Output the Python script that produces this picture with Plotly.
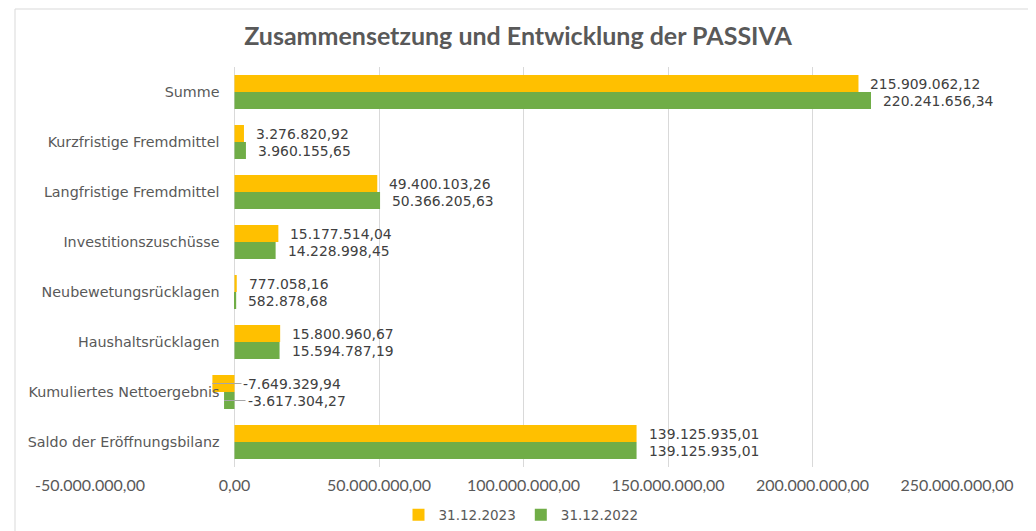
import plotly.graph_objects as go

categories = [
    "Summe",
    "Kurzfristige Fremdmittel",
    "Langfristige Fremdmittel",
    "Investitionszuschüsse",
    "Neubewetungsrücklagen",
    "Haushaltsrücklagen",
    "Kumuliertes Nettoergebnis",
    "Saldo der Eröffnungsbilanz",
]
values_2023 = [215909062.12, 3276820.92, 49400103.26, 15177514.04, 777058.16,
               15800960.67, -7649329.94, 139125935.01]
values_2022 = [220241656.34, 3960155.65, 50366205.63, 14228998.45, 582878.68,
               15594787.19, -3617304.27, 139125935.01]
series_names = ["31.12.2023", "31.12.2022"]
tick_values = [-50e6, 0, 50e6, 100e6, 150e6, 200e6, 250e6]
tick_labels = ["-50.000.000,00", "0,00", "50.000.000,00", "100.000.000,00",
               "150.000.000,00", "200.000.000,00", "250.000.000,00"]

colors = ["#FFC000", "#70AD47"]

# page body has an 8px margin, so the figure is drawn 8px in from the corner
OFF = 8
W, H = 1036 - OFF, 531 - OFF
ML, MR, MT, MB = 90 - OFF, 79, 67 - OFF, 64
PW, PH = W - ML - MR, H - MT - MB
x_range = [-50e6, 250e6]
ppu = PW / (x_range[1] - x_range[0])


def de_fmt(v):
    s = f"{abs(v):,.2f}".replace(",", "X").replace(".", ",").replace("X", ".")
    return ("-" if v < 0 else "") + s


fig = go.Figure()
for name, vals, col in zip(series_names, [values_2023, values_2022], colors):
    fig.add_trace(go.Bar(
        y=categories, x=vals, name=name, orientation="h",
        marker=dict(color=col, line=dict(width=0)),
        hoverinfo="skip",
    ))

annotations = []
label_font = dict(family="DejaVu Sans", size=13.9, color="#404040")
for vals, ysh, lead in [(values_2023, 8.5, 7), (values_2022, -8.5, 11)]:
    for cat, v in zip(categories, vals):
        if v >= 0:
            annotations.append(dict(
                x=v, y=cat, xref="x", yref="y", text=de_fmt(v),
                showarrow=False, xanchor="left", xshift=10, yshift=ysh,
                font=label_font,
            ))
        else:
            annotations.append(dict(
                x=v, y=cat, xref="x", yref="y", text=de_fmt(v),
                showarrow=True, arrowhead=0, arrowwidth=1, arrowcolor="#A6A6A6",
                ax=-v * ppu + lead, ay=0, xanchor="left", yshift=ysh,
                standoff=0, startstandoff=0,
                font=label_font,
            ))


def px_to_paper_x(px_ref):
    return (px_ref - OFF - ML) / PW


def px_to_paper_y(py_ref):
    return ((H - MB) - (py_ref - OFF)) / PH


fig.update_layout(
    width=W, height=H,
    template="none",
    paper_bgcolor="white", plot_bgcolor="white",
    margin=dict(l=ML, r=MR, t=MT, b=MB, autoexpand=False),
    barmode="group", bargap=0.32, bargroupgap=0,
    title=dict(
        text="<b>Zusammensetzung und Entwicklung der PASSIVA</b>",
        x=(518 - OFF) / W, xref="container", xanchor="center",
        y=1 - (36 - OFF) / H, yref="container", yanchor="middle",
        font=dict(family="Lato", size=25, color="#595959"),
    ),
    xaxis=dict(
        range=x_range, tickvals=tick_values, ticktext=tick_labels,
        showgrid=True, gridcolor="#D9D9D9", gridwidth=1,
        zeroline=False, showline=False, ticks="",
        ticklabelstandoff=7,
        tickfont=dict(family="Lato", size=16, color="#595959"),
        automargin=False,
        fixedrange=True,
    ),
    yaxis=dict(
        type="category", categoryorder="array", categoryarray=categories,
        autorange="reversed",
        anchor="free", position=(0 - x_range[0]) / (x_range[1] - x_range[0]),
        showgrid=False, zeroline=False, showline=False, ticks="",
        ticklabelstandoff=15, automargin=False,
        tickfont=dict(family="DejaVu Sans", size=14.3, color="#595959"),
        fixedrange=True,
    ),
    legend=dict(
        orientation="h", x=px_to_paper_x(521), xanchor="center",
        y=px_to_paper_y(515), yanchor="middle",
        font=dict(family="DejaVu Sans", size=13.5, color="#595959"),
        bgcolor="rgba(0,0,0,0)",
    ),
    annotations=annotations,
    shapes=[dict(
        type="rect", xref="paper", yref="paper",
        x0=px_to_paper_x(15), x1=px_to_paper_x(1033),
        y0=px_to_paper_y(545), y1=px_to_paper_y(9),
        line=dict(color="#D9D9D9", width=1), fillcolor="rgba(0,0,0,0)",
        layer="below",
    )],
    showlegend=True,
)

fig.write_html("out.html")
